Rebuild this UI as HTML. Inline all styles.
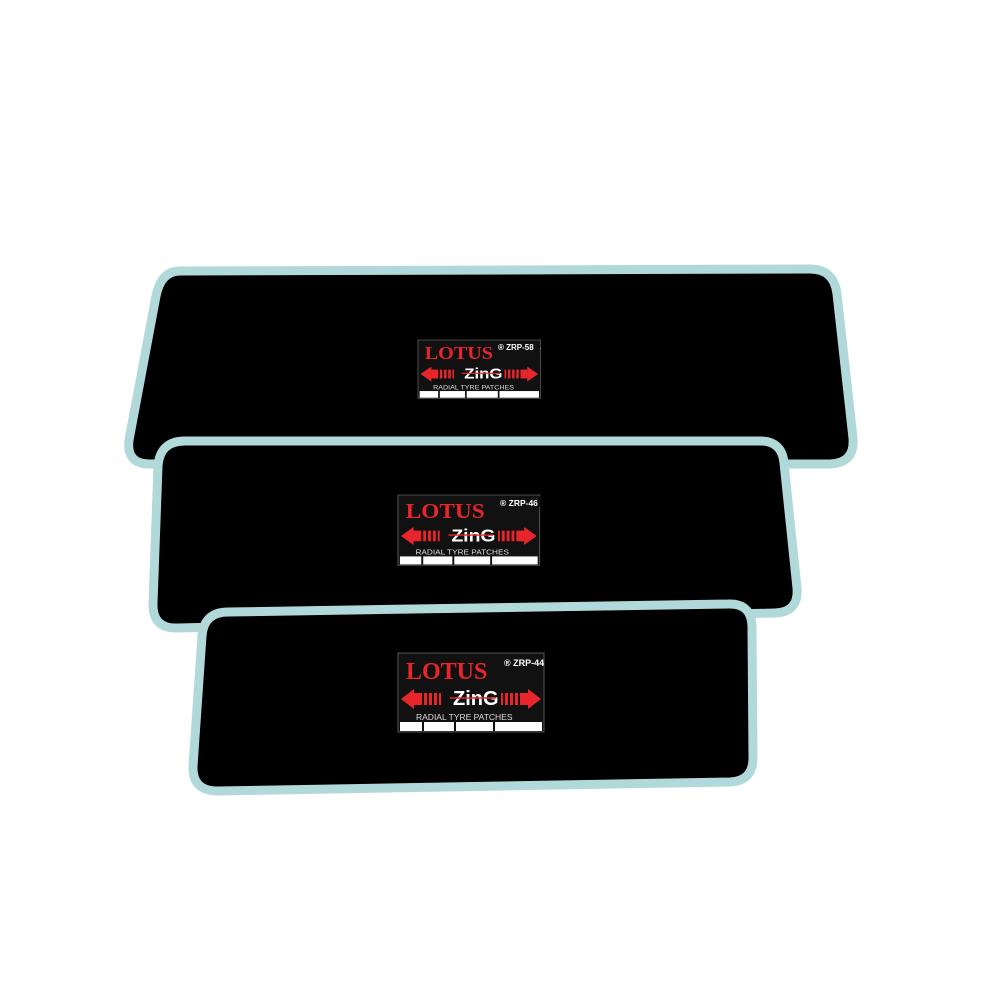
<!DOCTYPE html>
<html><head><style>html,body{margin:0;padding:0;background:#fff}svg{display:block}</style></head><body>
<svg width="1000" height="1000" viewBox="0 0 1000 1000" xmlns="http://www.w3.org/2000/svg">
<defs>
<g id="lbl">
  <rect x="0" y="0" width="146" height="79" fill="#111" stroke="#555" stroke-width="1"/>
  <text x="8" y="26" font-family="Liberation Serif,serif" font-weight="bold" font-size="24" fill="#e8252b">LOTUS</text>
  <text x="106" y="13" font-family="Liberation Sans,sans-serif" font-weight="bold" font-size="9" fill="#fff">® ZRP-44</text>
  <text x="55" y="52" font-family="Liberation Sans,sans-serif" font-weight="bold" font-size="20" fill="#fff">ZinG</text>
  <line x1="52" y1="45" x2="98" y2="45" stroke="#e8252b" stroke-width="1.5"/>
  <polygon points="3,46 16,36 16,56" fill="#e8252b"/>
  <rect x="16" y="40" width="8" height="12" fill="#e8252b"/>
  <rect x="26" y="40" width="3" height="12" fill="#e8252b"/><rect x="31" y="40" width="3" height="12" fill="#e8252b"/><rect x="36" y="40" width="3" height="12" fill="#e8252b"/><rect x="41" y="40" width="2" height="12" fill="#e8252b"/>
  <polygon points="143,46 130,36 130,56" fill="#e8252b"/>
  <rect x="122" y="40" width="8" height="12" fill="#e8252b"/>
  <rect x="117" y="40" width="3" height="12" fill="#e8252b"/><rect x="112" y="40" width="3" height="12" fill="#e8252b"/><rect x="107" y="40" width="3" height="12" fill="#e8252b"/><rect x="103" y="40" width="2" height="12" fill="#e8252b"/>
  <text x="18" y="67" font-family="Liberation Sans,sans-serif" font-size="8.5" fill="#ddd">RADIAL TYRE PATCHES</text>
  <rect x="2" y="69" width="22" height="9" fill="#fff"/>
  <rect x="26" y="69" width="30" height="9" fill="#fff"/>
  <rect x="58" y="69" width="37" height="9" fill="#fff"/>
  <rect x="97" y="69" width="47" height="9" fill="#fff"/>
</g>
</defs>
<g fill="#000" stroke="#b2d9da" stroke-width="9" stroke-linejoin="round">
<path d="M180,271 L810,269 Q834,269 837,294 L853,438 Q855,463 830,464 L150,464 Q126,464 129,440 L156,296 Q161,271 180,271 Z"/>
<path d="M185,441 L760,441 Q782,441 784,463 L797,588 Q799,612 775,613 L178,628 Q152,629 153,603 L158,466 Q160,441 185,441 Z"/>
<path d="M228,612 L728,604 Q752,603 752,628 L753,758 Q753,781 730,782 L218,791 Q192,791 193,766 L202,636 Q204,612 228,612 Z"/>
</g>
<g transform="translate(418,340) scale(0.84,0.74)"><use href="#lbl"/></g>
<rect x="498" y="341" width="42" height="10" fill="#111"/>
<text x="498" y="350" font-family="Liberation Sans,sans-serif" font-weight="bold" font-size="8" fill="#fff">® ZRP-58</text>
<g transform="translate(398,495) scale(0.97,0.89)"><use href="#lbl"/></g>
<rect x="500" y="496" width="40" height="11" fill="#111"/>
<text x="500" y="506" font-family="Liberation Sans,sans-serif" font-weight="bold" font-size="8.5" fill="#fff">® ZRP-46</text>
<g transform="translate(398,653)"><use href="#lbl"/></g>
</svg>
</body></html>
